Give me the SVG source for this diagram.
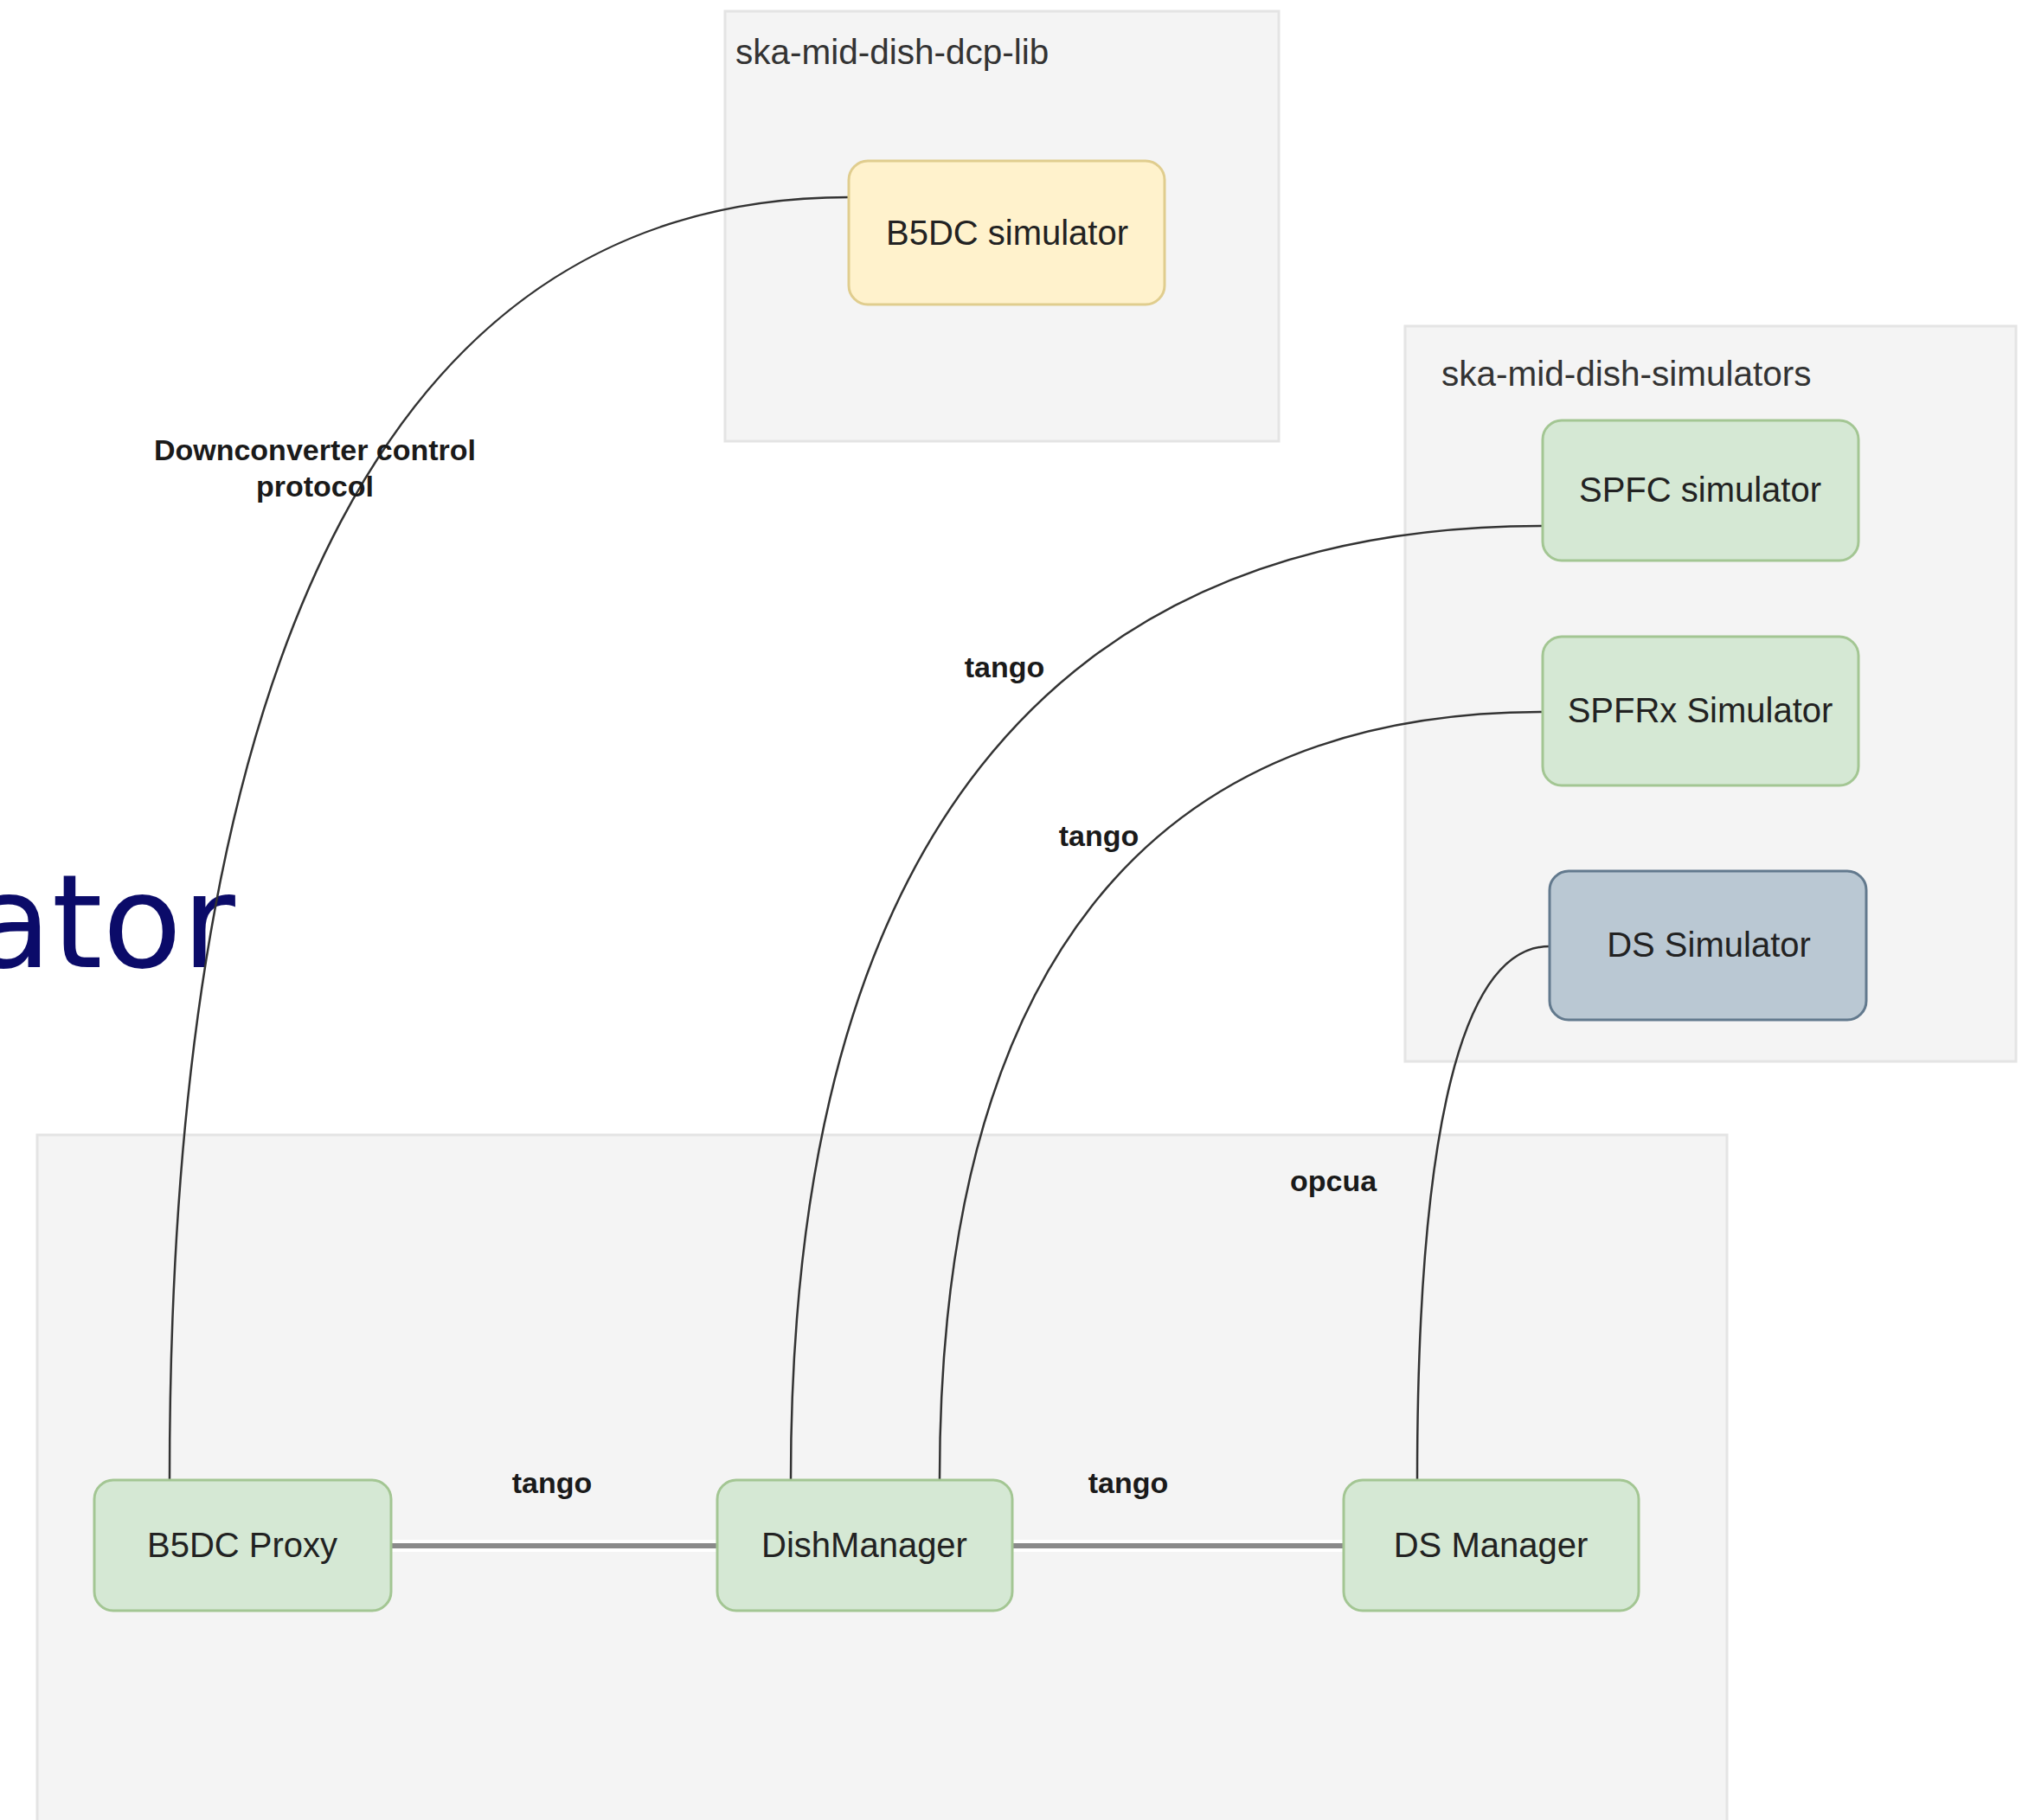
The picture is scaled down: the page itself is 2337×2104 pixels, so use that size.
<svg xmlns="http://www.w3.org/2000/svg" width="2337" height="2104" viewBox="0 0 2337 2104">
  <style>
    .container { fill: #f4f4f4; stroke: #e4e4e4; stroke-width: 3; }
    .clabel { font-family: "Liberation Sans", Arial, sans-serif; font-size: 40.5px; fill: #333333; }
    .green { fill: #d5e8d4; stroke: #a3c693; stroke-width: 3; }
    .yellow { fill: #fff2cc; stroke: #e0cd8e; stroke-width: 3; }
    .blue { fill: #bac8d3; stroke: #62798d; stroke-width: 3; }
    .ntext { font-family: "Liberation Sans", Arial, sans-serif; font-size: 40px; fill: #222222; text-anchor: middle; dominant-baseline: central; }
    .elabel { font-family: "Liberation Sans", Arial, sans-serif; font-size: 34px; font-weight: bold; fill: #1a1a1a; text-anchor: middle; dominant-baseline: central; }
    .curve { fill: none; stroke: #333333; stroke-width: 2.5; }
    .halo { fill: none; stroke: #ffffff; stroke-width: 14; }
    .straight { fill: none; stroke: #8a8a8a; stroke-width: 6; }
    .title { font-family: "DejaVu Sans", Verdana, sans-serif; font-size: 150px; fill: #0b0b69; }
  </style>
  <rect x="0" y="0" width="2337" height="2104" fill="#ffffff"/>

  <g id="containers">
    <g id="dcp-lib">
      <rect class="container" x="838" y="13" width="640" height="497"/>
      <text class="clabel" x="850" y="74">ska-mid-dish-dcp-lib</text>
    </g>
    <g id="simulators">
      <rect class="container" x="1624" y="377" width="706" height="850"/>
      <text class="clabel" x="1666" y="446">ska-mid-dish-simulators</text>
    </g>
    <g id="main-area">
      <rect class="container" x="43" y="1312" width="1953" height="820"/>
    </g>
  </g>

  <text class="title" x="272" y="1118" text-anchor="end">ator</text>

  <g id="connectors">
    <path class="curve" d="M196 1711 C196 732 463 228 981 228"/>
    <path class="curve" d="M914 1711 C914 983 1209 608 1783 608"/>
    <path class="curve" d="M1086 1711 C1086 1125 1323 823 1783 823"/>
    <path class="curve" d="M1638 1711 C1638 1304 1690 1094 1791 1094"/>
    <line class="halo" x1="452" y1="1787" x2="829" y2="1787"/>
    <line class="straight" x1="452" y1="1787" x2="829" y2="1787"/>
    <line class="halo" x1="1170" y1="1787" x2="1553" y2="1787"/>
    <line class="straight" x1="1170" y1="1787" x2="1553" y2="1787"/>
    <text class="elabel" x="364" y="520">Downconverter control</text>
    <text class="elabel" x="364" y="562">protocol</text>
    <text class="elabel" x="1161" y="771">tango</text>
    <text class="elabel" x="1270" y="966">tango</text>
    <text class="elabel" x="638" y="1714">tango</text>
    <text class="elabel" x="1304" y="1714">tango</text>
    <text class="elabel" x="1541" y="1365">opcua</text>
  </g>

  <g id="b5dc-simulator">
    <rect class="yellow" x="981" y="186" width="365" height="166" rx="22"/>
    <text class="ntext" x="1164" y="269">B5DC simulator</text>
  </g>
  <g id="spfc-simulator">
    <rect class="green" x="1783" y="486" width="365" height="162" rx="22"/>
    <text class="ntext" x="1965" y="566">SPFC simulator</text>
  </g>
  <g id="spfrx-simulator">
    <rect class="green" x="1783" y="736" width="365" height="172" rx="22"/>
    <text class="ntext" x="1965" y="821">SPFRx Simulator</text>
  </g>
  <g id="ds-simulator">
    <rect class="blue" x="1791" y="1007" width="366" height="172" rx="22"/>
    <text class="ntext" x="1975" y="1092">DS Simulator</text>
  </g>
  <g id="b5dc-proxy">
    <rect class="green" x="109" y="1711" width="343" height="151" rx="22"/>
    <text class="ntext" x="280" y="1786">B5DC Proxy</text>
  </g>
  <g id="dish-manager">
    <rect class="green" x="829" y="1711" width="341" height="151" rx="22"/>
    <text class="ntext" x="999" y="1786">DishManager</text>
  </g>
  <g id="ds-manager">
    <rect class="green" x="1553" y="1711" width="341" height="151" rx="22"/>
    <text class="ntext" x="1723" y="1786">DS Manager</text>
  </g>
</svg>
